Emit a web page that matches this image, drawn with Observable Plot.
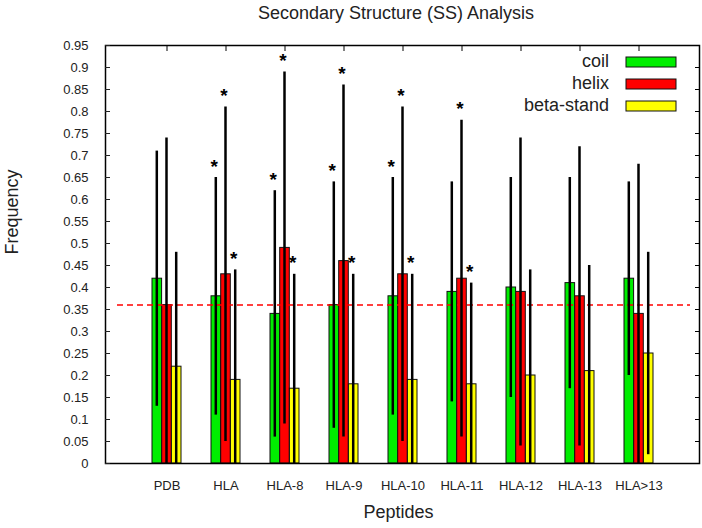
<!DOCTYPE html>
<html><head><meta charset="utf-8">
<script src="https://cdn.jsdelivr.net/npm/d3@7"></script>
<script src="https://cdn.jsdelivr.net/npm/@observablehq/plot@0.6"></script>
<style>
body{margin:0;background:#fff;font-family:"Liberation Sans",Arial,sans-serif;}
#title{height:26px;line-height:26px;font-size:18px;padding-left:90px;text-align:center;color:#222;}
#chart svg{display:block;}
</style></head><body>
<div id="title">Secondary Structure (SS) Analysis</div>
<div id="chart"></div>
<script>
const categories = ["PDB","HLA","HLA-8","HLA-9","HLA-10","HLA-11","HLA-12","HLA-13","HLA>13"];
const series = ["coil","helix","beta-stand"];
const colors = ["#00ee00","#ff0000","#ffff00"];
const coil      = [0.42,0.38,0.34,0.36,0.38,0.39,0.40,0.41,0.42];
const coilLow   = [0.13,0.11,0.06,0.08,0.11,0.14,0.15,0.17,0.20];
const coilHigh  = [0.71,0.65,0.62,0.64,0.65,0.64,0.65,0.65,0.64];
const helix     = [0.36,0.43,0.49,0.46,0.43,0.42,0.39,0.38,0.34];
const helixLow  = [0,0.05,0.09,0.06,0.05,0.06,0.04,0.04,0];
const helixHigh = [0.74,0.81,0.89,0.86,0.81,0.78,0.74,0.72,0.68];
const beta      = [0.22,0.19,0.17,0.18,0.19,0.18,0.20,0.21,0.25];
const betaLow   = [0,0,0,0,0,0,0,0,0.02];
const betaHigh  = [0.48,0.44,0.43,0.43,0.43,0.41,0.44,0.45,0.48];
const coilStar  = [0,1,1,1,1,0,0,0,0];
const helixStar = [0,1,1,1,1,1,0,0,0];
const betaStar  = [0,1,1,1,1,1,0,0,0];
const reference = 0.36;
const yTicks = [0,0.05,0.1,0.15,0.2,0.25,0.3,0.35,0.4,0.45,0.5,0.55,0.6,0.65,0.7,0.75,0.8,0.85,0.9,0.95];

const values = [coil, helix, beta], lows = [coilLow, helixLow, betaLow],
      highs = [coilHigh, helixHigh, betaHigh], stars = [coilStar, helixStar, betaStar];
const rows = series.map((s, j) => categories.map((c, i) => ({
  cat: c, series: s, value: values[j][i], lo: lows[j][i], hi: highs[j][i], star: stars[j][i]
})));

const W = 702, H = 502, mL = 105, mR = 3, mT = 19, mB = 65;
const step = (W - mL - mR) / 10, bw = step * 0.49, third = bw / 3;
const offs = [-third, 0, third];
const insets = [[0, 2 * third], [third, third], [2 * third, 0]];
const font = "Liberation Sans, Arial, sans-serif";

const marks = [];
series.forEach((s, j) => {
  marks.push(Plot.barY(rows[j], {x: "cat", y: "value", fill: "series", stroke: "#111", strokeWidth: 1,
    insetLeft: insets[j][0], insetRight: insets[j][1]}));
});
marks.push(Plot.ruleY([reference], {stroke: "#ff0000", strokeWidth: 1.5, strokeDasharray: "6,4", insetLeft: 12, insetRight: 9}));
series.forEach((s, j) => {
  marks.push(Plot.ruleX(rows[j], {x: "cat", y1: "lo", y2: "hi", stroke: "#000", strokeWidth: 2.5, dx: offs[j] - 0.5}));
  marks.push(Plot.text(rows[j].filter(d => d.star), {x: "cat", y: "hi", text: () => "*", fontSize: 19, fontWeight: "bold", fill: "#000", dx: offs[j] - 2, dy: -11}));
});
marks.push(
  Plot.frame({stroke: "#000", strokeWidth: 1.5}),
  Plot.axisY(yTicks, {anchor: "left", tickSize: -5, tickPadding: 22, label: null, fontSize: 13, tickFormat: d => String(d), color: "#222"}),
  Plot.axisY(yTicks, {anchor: "right", tickSize: -5, fill: "none", label: null}),
  Plot.axisX({anchor: "top", tickSize: -5, fill: "none", label: null}),
  Plot.axisX({anchor: "bottom", tickSize: 0, tickPadding: 17, label: null, fontSize: 13, color: "#222"}),
  Plot.text(["Frequency"], {frameAnchor: "left", rotate: -90, dx: -93, fontSize: 18, fill: "#222"}),
  Plot.text(["Peptides"], {frameAnchor: "bottom", dy: 54, dx: -4, fontSize: 18, fill: "#222"})
);

const plot = Plot.plot({
  width: W, height: H, marginLeft: mL, marginRight: mR, marginTop: mT, marginBottom: mB,
  style: {fontFamily: font, background: "#fff", overflow: "visible"},
  x: {type: "band", domain: categories, paddingInner: 0.51, paddingOuter: 0.755, axis: null},
  y: {domain: [0, 0.95], axis: null},
  color: {domain: series, range: colors},
  marks
});
document.getElementById("chart").append(plot);

// legend (top-right, inside the frame)
const svg = d3.select(plot);
const color = plot.scale("color");
const lg = svg.append("g").attr("font-family", font).attr("font-size", 18);
series.forEach((s, j) => {
  const yc = mT + 17 + j * 22;
  lg.append("text").attr("x", W - mR - 90).attr("y", yc + 5).attr("text-anchor", "end").attr("fill", "#222").text(s);
  lg.append("rect").attr("x", W - mR - 73).attr("y", yc - 5).attr("width", 50).attr("height", 10)
    .attr("fill", color.apply(s)).attr("stroke", "#111").attr("stroke-width", 1);
});
</script>
</body></html>
